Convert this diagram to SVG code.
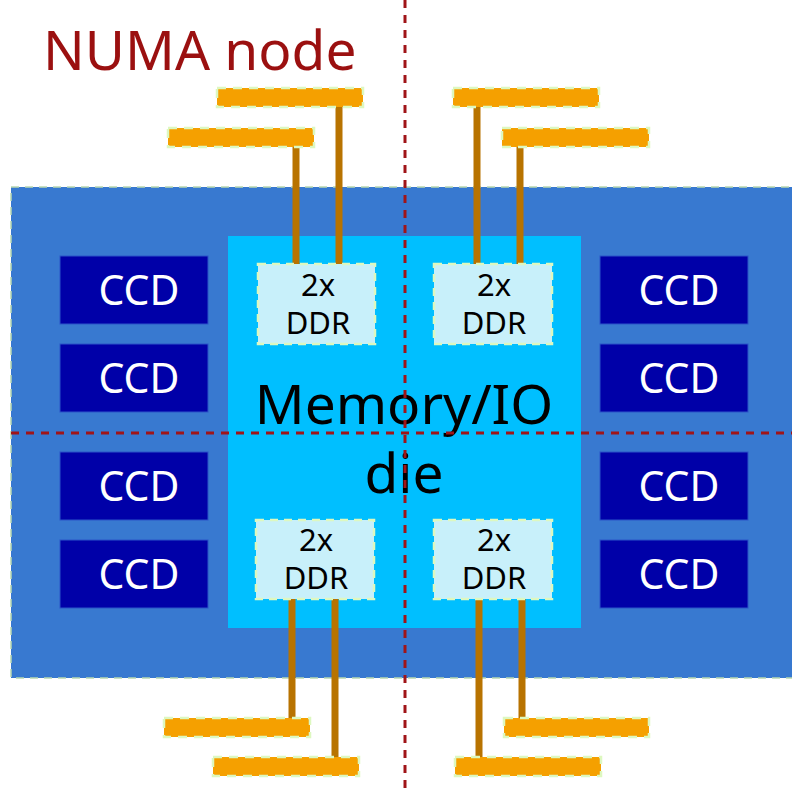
<svg xmlns="http://www.w3.org/2000/svg" width="792" height="795" viewBox="0 0 792 795">
<style>
.pkg{fill:#3879d0;stroke:#b8d8b0;stroke-width:1.5;stroke-dasharray:8 6}
.io{fill:#00bfff}
.ccd{fill:#0000a8;stroke:#2a55c8;stroke-width:1}
.ccdt{font-family:"Noto Sans","Open Sans",sans-serif;font-size:41px;fill:#ffffff;text-anchor:middle}
.ddr{fill:#c8f0fa;stroke:#ddf8c0;stroke-width:2.5;stroke-dasharray:8 6}
.ddrt{font-family:"Noto Sans","Open Sans",sans-serif;font-size:31px;fill:#000;text-anchor:middle}
.bar{fill:#f5a000;stroke:#ddf8c0;stroke-width:2.5;stroke-dasharray:9 7}
.wire{stroke:#b87300;stroke-width:7}
.div{stroke:#a01418;stroke-width:3;stroke-dasharray:8 7;fill:none}
.big{font-family:"Noto Sans","Open Sans",sans-serif;font-size:55px;text-anchor:middle;fill:#000}
</style>
<g id="package"><rect class="pkg" x="11" y="187" width="790" height="491"/></g>
<g id="iodie"><rect class="io" x="228" y="236" width="353" height="392"/>
<text class="big" x="404" y="424">Memory/IO</text><text class="big" x="404" y="493">die</text></g>
<g id="ccd-l1"><rect class="ccd" x="60" y="256" width="148" height="68"/><text class="ccdt" x="139" y="305">CCD</text></g>
<g id="ccd-l2"><rect class="ccd" x="60" y="344" width="148" height="68"/><text class="ccdt" x="139" y="393">CCD</text></g>
<g id="ccd-l3"><rect class="ccd" x="60" y="452" width="148" height="68"/><text class="ccdt" x="139" y="501">CCD</text></g>
<g id="ccd-l4"><rect class="ccd" x="60" y="540" width="148" height="68"/><text class="ccdt" x="139" y="589">CCD</text></g>
<g id="ccd-r1"><rect class="ccd" x="600" y="256" width="148" height="68"/><text class="ccdt" x="679" y="305">CCD</text></g>
<g id="ccd-r2"><rect class="ccd" x="600" y="344" width="148" height="68"/><text class="ccdt" x="679" y="393">CCD</text></g>
<g id="ccd-r3"><rect class="ccd" x="600" y="452" width="148" height="68"/><text class="ccdt" x="679" y="501">CCD</text></g>
<g id="ccd-r4"><rect class="ccd" x="600" y="540" width="148" height="68"/><text class="ccdt" x="679" y="589">CCD</text></g>
<g id="connectors">
<line class="wire" x1="296" y1="147" x2="296" y2="265"/>
<line class="wire" x1="339" y1="107" x2="339" y2="265"/>
<line class="wire" x1="477" y1="107" x2="477" y2="265"/>
<line class="wire" x1="520" y1="147" x2="520" y2="265"/>
<line class="wire" x1="292" y1="598" x2="292" y2="718"/>
<line class="wire" x1="335" y1="598" x2="335" y2="757"/>
<line class="wire" x1="479" y1="598" x2="479" y2="757"/>
<line class="wire" x1="522" y1="598" x2="522" y2="718"/>
</g>
<g id="ddr-tl"><rect class="ddr" x="258" y="264" width="117" height="80"/><text class="ddrt" x="318" y="296">2x</text><text class="ddrt" x="318" y="334">DDR</text></g>
<g id="ddr-tr"><rect class="ddr" x="434" y="264" width="118" height="80"/><text class="ddrt" x="494" y="296">2x</text><text class="ddrt" x="494" y="334">DDR</text></g>
<g id="ddr-bl"><rect class="ddr" x="256" y="520" width="118" height="79"/><text class="ddrt" x="316" y="551">2x</text><text class="ddrt" x="316" y="589">DDR</text></g>
<g id="ddr-br"><rect class="ddr" x="434" y="520" width="118" height="79"/><text class="ddrt" x="494" y="551">2x</text><text class="ddrt" x="494" y="589">DDR</text></g>
<g id="dimm-1"><rect class="bar" x="217" y="88" width="146" height="19"/></g>
<g id="dimm-2"><rect class="bar" x="168" y="128" width="146" height="19"/></g>
<g id="dimm-3"><rect class="bar" x="453" y="88" width="146" height="19"/></g>
<g id="dimm-4"><rect class="bar" x="502" y="128" width="147" height="19"/></g>
<g id="dimm-5"><rect class="bar" x="164" y="718" width="146" height="19"/></g>
<g id="dimm-6"><rect class="bar" x="213" y="757" width="146" height="19"/></g>
<g id="dimm-7"><rect class="bar" x="455" y="757" width="146" height="19"/></g>
<g id="dimm-8"><rect class="bar" x="504" y="718" width="145" height="19"/></g>
<g id="dividers">
<line class="div" x1="405" y1="0" x2="405" y2="795"/>
<line class="div" x1="11" y1="433" x2="792" y2="433"/>
</g>
<g id="title"><text x="43" y="70" style="font-family:'Noto Sans','Open Sans',sans-serif;font-size:55px;fill:#9b1010">NUMA node</text></g>
</svg>
